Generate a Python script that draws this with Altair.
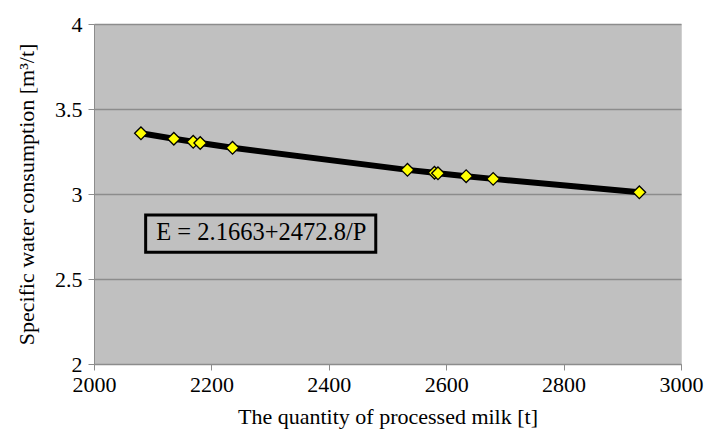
import altair as alt
import pandas as pd

milk = [2080, 2136, 2169, 2181, 2236, 2534, 2580, 2586, 2634, 2680, 2929]
water = [3.357, 3.325, 3.307, 3.300, 3.272, 3.142, 3.125, 3.122, 3.105, 3.089, 3.010]

label_text = ["E = 2.1663+2472.8/P"]
label_x = [2285]
label_y = [2.768]
box_x = [2088]
box_x2 = [2480]
box_y = [2.658]
box_y2 = [2.877]

df = pd.DataFrame({"P": milk, "E": water})
ann = pd.DataFrame({"t": label_text, "x": label_x, "y": label_y,
                    "bx": box_x, "bx2": box_x2, "by": box_y, "by2": box_y2})

FONT = "Liberation Serif"

xs = alt.Scale(domain=[2000, 3000], nice=False)
ys = alt.Scale(domain=[2, 4], nice=False)

xax = alt.Axis(values=[2000, 2200, 2400, 2600, 2800, 3000], grid=False, format="d",
               title="The quantity of processed milk [t]", labelFlush=False,
               labelPadding=4, titlePadding=11)
yax = alt.Axis(values=[2, 2.5, 3, 3.5, 4], grid=True, format="~g",
               title="Specific water consumption [m³/t]", labelPadding=6, titlePadding=16)

base = alt.Chart(df)

line = base.mark_line(color="black", strokeWidth=6).encode(
    x=alt.X("P:Q", scale=xs, axis=xax),
    y=alt.Y("E:Q", scale=ys, axis=yax),
)

pts = base.mark_point(shape="diamond", filled=True, fill="#ffff00", stroke="black",
                      strokeWidth=1.3, size=160, opacity=1).encode(
    x=alt.X("P:Q", scale=xs, axis=xax),
    y=alt.Y("E:Q", scale=ys, axis=yax),
)

box = alt.Chart(ann).mark_rect(fill="#c0c0c0", stroke="black", strokeWidth=3).encode(
    x=alt.X("bx:Q", scale=xs, axis=xax), x2="bx2",
    y=alt.Y("by:Q", scale=ys, axis=yax), y2="by2")

txt = alt.Chart(ann).mark_text(font=FONT, fontSize=24.5, color="black").encode(
    x=alt.X("x:Q", scale=xs, axis=xax), y=alt.Y("y:Q", scale=ys, axis=yax), text="t:N")

chart = alt.layer(line, pts, box, txt).properties(
    width=587, height=340,
    autosize=alt.AutoSizeParams(type="none"),
    padding={"left": 86, "top": 16, "right": 24, "bottom": 72},
).configure_view(fill="#c0c0c0", stroke="#d0d0d0", strokeWidth=1
).configure_axis(
    labelFont=FONT, titleFont=FONT, labelFontSize=22, titleFontSize=22,
    titleFontWeight="normal", labelColor="black", titleColor="black",
    domainColor="#8c8c8c", tickColor="#8c8c8c", tickSize=6,
    gridColor="#8c8c8c", gridWidth=1.5,
)

chart.save("out.html", embed_options={"renderer": "svg", "actions": False})
